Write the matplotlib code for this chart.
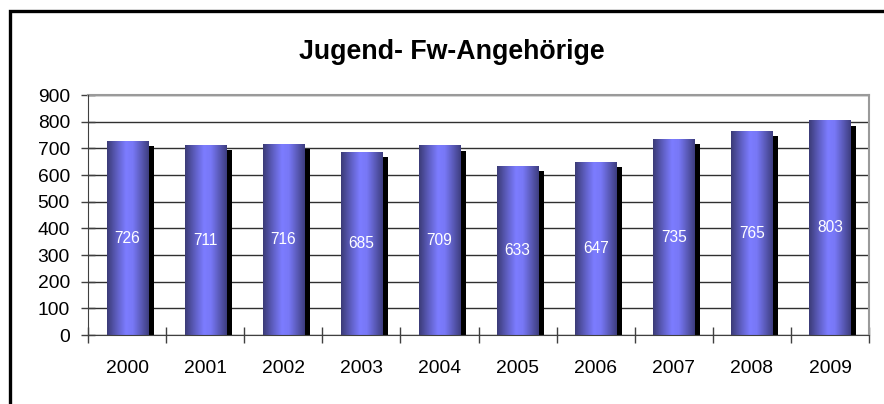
"""Jugend- Fw-Angehörige 2000-2009, Excel-style cylinder bars with drop shadow."""
import matplotlib
matplotlib.use('Agg')
import matplotlib.pyplot as plt, numpy as np
from matplotlib.colors import LinearSegmentedColormap
from matplotlib.patches import Rectangle

years = ['2000', '2001', '2002', '2003', '2004', '2005', '2006', '2007', '2008', '2009']
members = [726, 711, 716, 685, 709, 633, 647, 735, 765, 803]
yticks = list(range(0, 1000, 100))

plt.rcParams['font.family'] = ['Liberation Sans', 'DejaVu Sans']

fig = plt.figure(figsize=(8.84, 4.04), dpi=100)
ax_w, ax_h = 869 - 88, 335 - 95      # axes size in px
ax = fig.add_axes([88/884, 1-335/404, ax_w/884, ax_h/404])

cyl = LinearSegmentedColormap.from_list('cyl', [
    (0.0, '#3c3c78'), (0.2, '#5a5ab8'), (0.45, '#7c7cff'),
    (0.62, '#7878f6'), (0.85, '#5656b0'), (1.0, '#3e3e80')])
grad = np.linspace(0, 1, 64).reshape(1, -1)

x = np.arange(len(years)); w = 0.525
ymax = 900
# shadow strip: 6 px right of the bar, top 5 px lower
dx = 6 * len(years) / ax_w
dy = 5 * ymax / ax_h
for xi, v in zip(x, members):
    ax.add_patch(Rectangle((xi + w/2 - 0.01, 0), dx + 0.01, v - dy, facecolor='black',
                           edgecolor='none', zorder=2))
    ax.imshow(grad, cmap=cyl, extent=(xi - w/2, xi + w/2, 0, v), aspect='auto',
              zorder=3, interpolation='bilinear')
    ax.text(xi, v/2, str(v), ha='center', va='center', color='white',
            fontsize=11.2, zorder=4)

ax.set_xlim(-0.5, len(years) - 0.5)
ax.set_ylim(0, ymax)
ax.set_yticks(yticks)
ax.set_xticks(x)
ax.set_xticklabels(years)
ax.set_xticks(np.arange(-0.5, len(years)), minor=True)
ax.tick_params(axis='x', which='major', length=0, pad=18, labelsize=13.9)
ax.tick_params(axis='x', which='minor', direction='inout', length=12, width=1, color='#404040')
ax.tick_params(axis='y', direction='inout', length=10, width=1, color='#404040',
               pad=8, labelsize=13.9)
ax.grid(True, axis='y', color='#303030', lw=1)
ax.set_axisbelow(True)
for s in ['left', 'bottom']:
    ax.spines[s].set_color('#404040'); ax.spines[s].set_zorder(5)
for s in ['top', 'right']:
    ax.spines[s].set_color('#9a9a9a'); ax.spines[s].set_linewidth(1.5)

fig.text(452/884, 1-52/404, 'Jugend- Fw-Angehörige', ha='center', va='center',
         fontsize=19.3, fontweight='bold')

# outer chart frame, cut off on the right and bottom
fig.patches.append(Rectangle((9.5/884, -0.2), 1.2, 1.2 - 10.5/404, fill=False,
                             edgecolor='black', lw=2.4, transform=fig.transFigure))

fig.savefig('out.png', dpi=100)
print('ok')
